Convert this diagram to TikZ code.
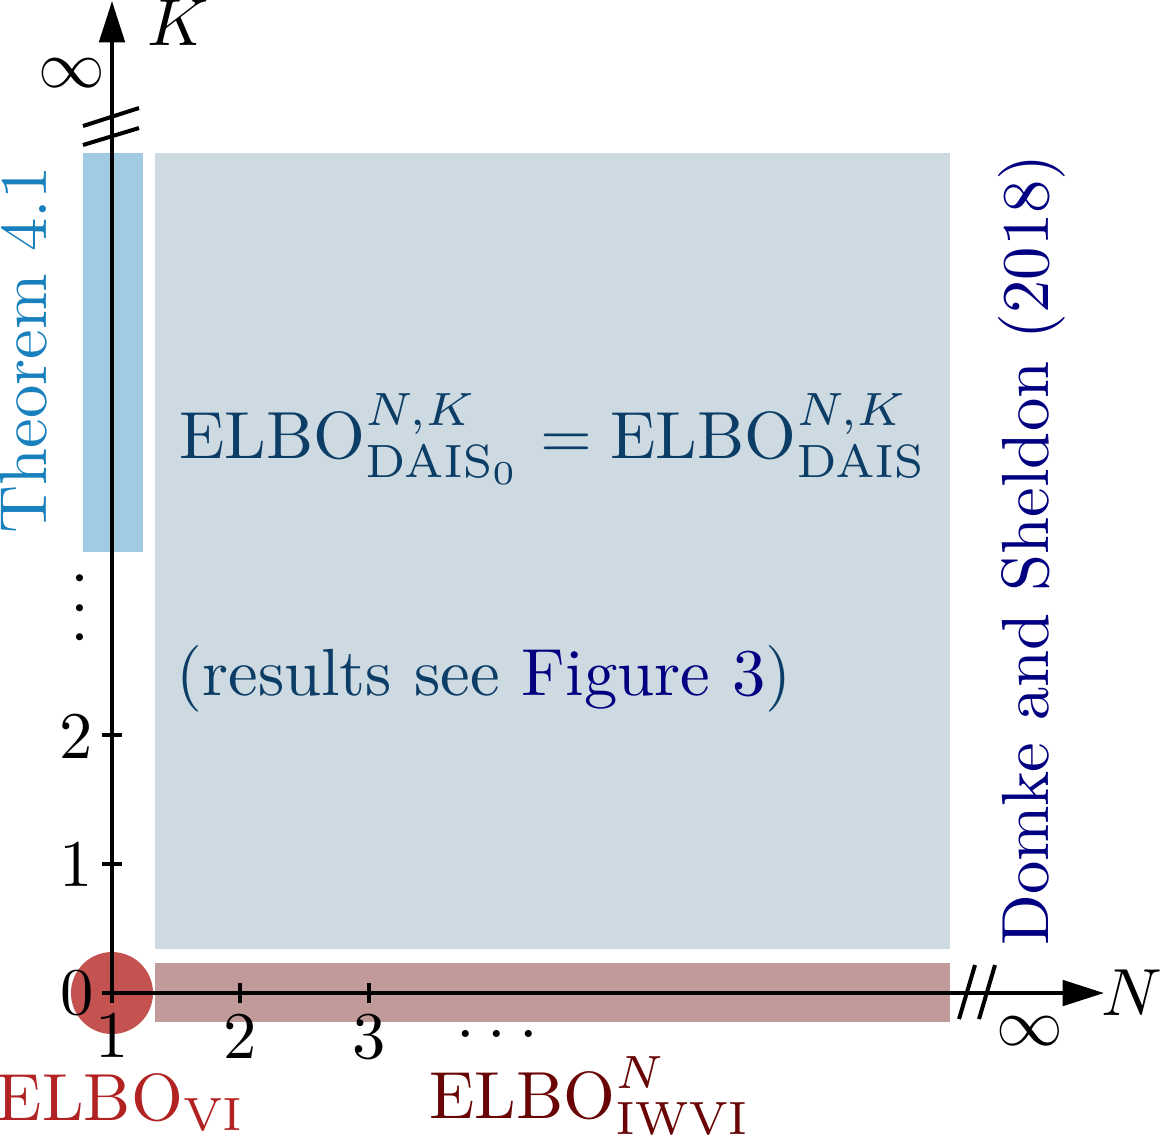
\documentclass[tikz,border=0pt]{standalone}
\usetikzlibrary{arrows.meta}
\definecolor{mainblue}{RGB}{11,61,102}
\definecolor{thmblue}{RGB}{25,128,190}
\definecolor{rectblue}{RGB}{160,203,227}
\definecolor{rectgray}{RGB}{206,218,225}
\definecolor{rectred}{RGB}{193,155,153}
\definecolor{circred}{RGB}{196,82,80}
\definecolor{vired}{RGB}{178,34,34}
\definecolor{iwvired}{RGB}{105,5,5}
\definecolor{navyblue}{RGB}{0,0,128}
\begin{document}
\begin{tikzpicture}[x=0.15pt,y=-0.15pt,
  axis/.style={line width=0.6pt, black},
  axtip/.style={-{Triangle[length=6.2pt,width=3.8pt]}},
  tick/.style={line width=0.6pt, black},
  brk/.style={line width=0.6pt, black},
  ylab/.style={anchor=east, inner sep=0pt},
  xlab/.style={anchor=north, inner sep=0pt},
  lab/.style={anchor=base, inner sep=0pt}]
\useasboundingbox (0,0) rectangle (1162,1135);
% regions
\fill[rectgray] (155,153) rectangle (950,949);
\fill[rectblue] (83,153) rectangle (143,552);
\fill[rectred] (155,963) rectangle (950,1022);
\fill[circred] (112,993) circle[radius=6.15pt];
% axes
\coordinate (O) at (112,993);
\coordinate (ytop) at (112,1);
\coordinate (xend) at (1104,993);
\draw[axis,axtip] (O) -- (ytop);
\draw[axis,axtip] (O) -- (xend);
% breaks
\draw[brk] (83,126) -- (139,108);
\draw[brk] (83,145) -- (139,128);
\draw[brk] (959,1019) -- (975,965);
\draw[brk] (979,1019) -- (995,965);
% ticks
\draw[tick] (102,993) -- (122,993);
\draw[tick] (102,864) -- (122,864);
\draw[tick] (102,735) -- (122,735);
\draw[tick] (112,983) -- (112,1003);
\draw[tick] (240,983) -- (240,1003);
\draw[tick] (369,983) -- (369,1003);
% tick labels
\node[ylab] (k0) at (95,993) {0};
\node[ylab] (k1) at (94,864) {1};
\node[ylab] (k2) at (94,736) {2};
\node[xlab] (n1) at (112,1012) {1};
\node[xlab] (n2) at (240,1013) {2};
\node[xlab] (n3) at (369,1013) {3};
\node[lab] (hdots) at (497,1037) {.\kern 1.95pt.\kern 1.95pt.};
\node[inner sep=0pt, rotate=90] (vdots) at (80,608) {.\kern 1.65pt.\kern 1.65pt.};
% axis labels
\node[lab] (K) at (178,45) {$K$};
\node[lab] (N) at (1132,1015) {$N$};
\node (infK) at (72,73) {$\infty$};
\node (infN) at (1030,1031) {$\infty$};
% texts
\node[lab, text=mainblue] (eq) at (553,458) {$\mathrm{ELBO}^{N,K}_{\mathrm{DAIS}_0} = \mathrm{ELBO}^{N,K}_{\mathrm{DAIS}}$};
\node[lab, text=mainblue] (res) at (484,695) {(results see \textcolor{navyblue}{Figure 3})};
\node[lab, rotate=90, text=thmblue] (thm) at (47,350) {Theorem 4.1};
\node[lab, rotate=90, text=navyblue] (domke) at (1048,550) {Domke and Sheldon (2018)};
\node[lab, text=vired] (vi) at (121,1120) {$\mathrm{ELBO}_{\mathrm{VI}}$};
\node[lab, text=iwvired] (iwvi) at (590,1118) {$\mathrm{ELBO}^{N}_{\mathrm{IWVI}}$};
\end{tikzpicture}
\end{document}
